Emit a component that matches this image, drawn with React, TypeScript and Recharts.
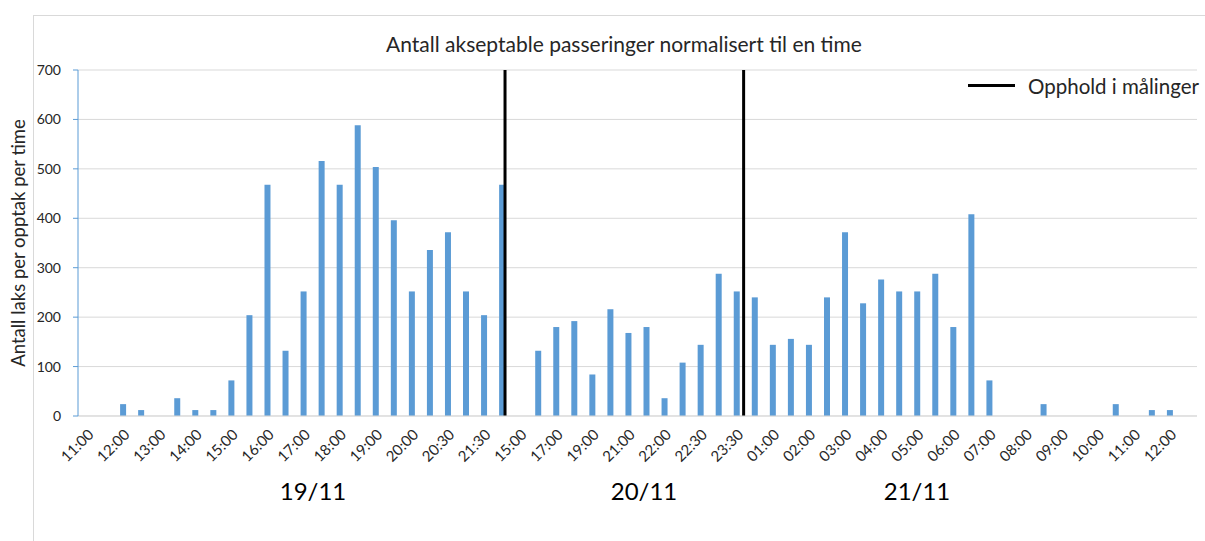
import React from 'react';
import { BarChart, Bar, XAxis, YAxis, CartesianGrid, ReferenceLine } from 'recharts';

// tick labels, one per two slots
const tickLabels = [
  '11:00', '12:00', '13:00', '14:00', '15:00', '16:00', '17:00', '18:00', '19:00', '20:00',
  '20:30', '21:30', '15:00', '17:00', '19:00', '21:00', '22:00', '22:30', '23:30', '01:00',
  '02:00', '03:00', '04:00', '05:00', '06:00', '07:00', '08:00', '09:00', '10:00', '11:00', '12:00',
];

// laks per opptak per time, one value per slot
const values = [
  0, 0, 24, 12, 0, 36, 12, 12, 72, 204,
  468, 132, 252, 516, 468, 588, 504, 396, 252, 336,
  372, 252, 204, 468, 0, 132, 180, 192, 84, 216,
  168, 180, 36, 108, 144, 288, 252, 240, 144, 156,
  144, 240, 372, 228, 276, 252, 252, 288, 180, 408,
  72, 0, 0, 24, 0, 0, 0, 24, 0, 12,
  12, 0,
];

const yTicks = [0, 100, 200, 300, 400, 500, 600, 700];

// opphold i målinger (slot position)
const breaks = [23.16, 36.38];

const days = [
  { label: '19/11', x: 313 },
  { label: '20/11', x: 644 },
  { label: '21/11', x: 917 },
];

const data = values.map((v, i) => ({ slot: i, idx: i, value: v }));

const FONT = 'Lato, "Noto Sans", sans-serif';
const TEXT = '#262626';

export default function App() {
  return (
    <div style={{ position: 'absolute', left: 0, top: 0, width: 1205, height: 541, background: '#fff', fontFamily: FONT, overflow: 'hidden' }}>
      <div style={{ position: 'absolute', left: 33, top: 15, width: 1200, height: 600, borderLeft: '1px solid #d9d9d9', borderTop: '1px solid #d9d9d9' }} />
      <BarChart
        width={1205}
        height={541}
        data={data}
        margin={{ top: 70, right: 8, bottom: 65, left: 0 }}
        barCategoryGap={0}
        style={{ position: 'absolute', left: 0, top: 0 }}
      >
        <CartesianGrid vertical={false} stroke="#d9d9d9" />
        <XAxis
          dataKey="slot"
          type="category"
          interval={1}
          height={60}
          tickLine={false}
          tickSize={8}
          tickMargin={4}
          axisLine={{ stroke: '#d9d9d9' }}
          angle={-45}
          textAnchor="end"
          tick={{ fill: TEXT, fontSize: 15, fontFamily: FONT }}
          tickFormatter={(v: number) => tickLabels[Math.floor(v / 2)] ?? ''}
        />
        <XAxis xAxisId="num" dataKey="idx" type="number" domain={[-0.5, values.length - 0.5]} allowDataOverflow hide />
        <YAxis
          width={78}
          domain={[0, 700]}
          ticks={yTicks}
          interval={0}
          tickSize={5}
          tickMargin={12}
          axisLine={{ stroke: '#5b9bd5' }}
          tickLine={{ stroke: '#5b9bd5' }}
          tick={{ fill: TEXT, fontSize: 14, fontFamily: FONT }}
        />
        <Bar dataKey="value" fill="#5b9bd5" barSize={6} isAnimationActive={false} />
        {breaks.map((b) => (
          <ReferenceLine key={b} xAxisId="num" x={b} stroke="#000" strokeWidth={3} />
        ))}
      </BarChart>
      <div style={{ position: 'absolute', left: 624, top: 43, transform: 'translate(-50%, -50%)', whiteSpace: 'nowrap', fontSize: 21, color: TEXT }}>
        Antall akseptable passeringer normalisert til en time
      </div>
      <div style={{ position: 'absolute', left: 18, top: 243, transform: 'translate(-50%, -50%) rotate(-90deg)', whiteSpace: 'nowrap', fontSize: 18.5, color: TEXT }}>
        Antall laks per opptak per time
      </div>
      {days.map((d) => (
        <div key={d.label} style={{ position: 'absolute', left: d.x, top: 490, transform: 'translate(-50%, -50%)', whiteSpace: 'nowrap', fontSize: 24, color: '#000' }}>
          {d.label}
        </div>
      ))}
      <div style={{ position: 'absolute', left: 968, top: 84, width: 47, height: 3, background: '#000' }} />
      <div style={{ position: 'absolute', left: 1028, top: 86, transform: 'translateY(-50%)', whiteSpace: 'nowrap', fontSize: 20.5, color: TEXT }}>
        Opphold i målinger
      </div>
    </div>
  );
}
